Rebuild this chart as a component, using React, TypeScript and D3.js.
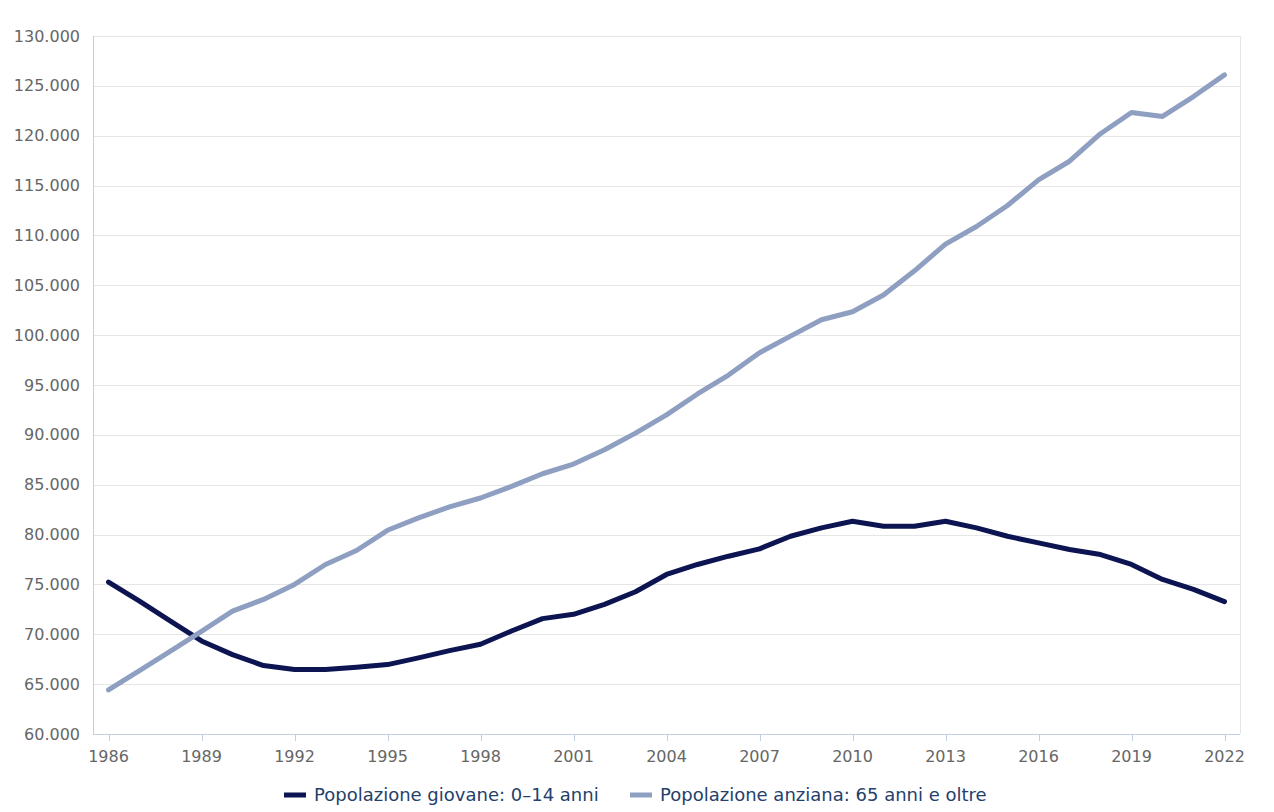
import { useEffect, useRef } from "react";
import * as d3 from "d3";

// anni (asse x)
const years = d3.range(1986, 2023);

// Popolazione giovane: 0-14 anni
const giovani = [
  75230, 73320, 71310, 69330, 67960, 66860, 66460, 66460, 66700, 66960,
  67630, 68360, 69000, 70330, 71570, 72000, 73000, 74270, 76000, 77000,
  77830, 78570, 79830, 80670, 81330, 80830, 80830, 81330, 80670, 79830,
  79170, 78500, 78000, 77000, 75500, 74500, 73270,
];

// Popolazione anziana: 65 anni e oltre
const anziani = [
  64430, 66360, 68300, 70300, 72320, 73500, 75000, 77000, 78400, 80430,
  81670, 82770, 83670, 84830, 86100, 87070, 88500, 90170, 92000, 94100,
  96000, 98230, 99900, 101540, 102350, 104020, 106450, 109130, 110900, 113000,
  115570, 117440, 120200, 122330, 121930, 123930, 126100,
];

const seriesNames = ["Popolazione giovane: 0–14 anni", "Popolazione anziana: 65 anni e oltre"];
const seriesColors = ["#0c1452", "#8f9fc1"];
const yTicks = d3.range(60000, 130001, 5000);
const xTicks = d3.range(1986, 2023, 3);

const W = 1274;
const H = 812;

const drawChart = (element: SVGSVGElement) => {
  const svg = d3.select(element);
  svg.selectAll("*").remove();

  const left = 93;
  const right = 1240;
  const top = 36;
  const bottom = 734;
  const font = "'DejaVu Sans', sans-serif";

  const x = d3.scalePoint<number>().domain(years).range([left, right]).padding(0.5);
  const y = d3.scaleLinear().domain([60000, 130000]).range([bottom, top]);
  const it = d3.formatLocale({ decimal: ",", thousands: ".", grouping: [3], currency: ["€", ""] });
  const fmt = it.format(",d");

  // griglia orizzontale
  svg.append("g")
    .selectAll("line")
    .data(yTicks.slice(1))
    .join("line")
    .attr("x1", left)
    .attr("x2", right)
    .attr("y1", (d) => Math.round(y(d)) + 0.5)
    .attr("y2", (d) => Math.round(y(d)) + 0.5)
    .attr("stroke", "#e6e6e6");

  // bordo destro
  svg.append("line")
    .attr("x1", right + 0.5).attr("x2", right + 0.5)
    .attr("y1", y(130000)).attr("y2", bottom)
    .attr("stroke", "#e6e6e6");

  // asse y
  svg.append("line")
    .attr("x1", left + 0.5).attr("x2", left + 0.5)
    .attr("y1", y(130000)).attr("y2", bottom)
    .attr("stroke", "#c0d0e0");

  svg.append("g")
    .selectAll("text")
    .data(yTicks)
    .join("text")
    .attr("x", 80)
    .attr("y", (d) => y(d))
    .attr("dy", "0.35em")
    .attr("text-anchor", "end")
    .attr("font-family", font)
    .attr("font-size", 16)
    .attr("fill", "#666666")
    .text((d) => fmt(d));

  // asse x
  svg.append("line")
    .attr("x1", left).attr("x2", right)
    .attr("y1", bottom + 0.5).attr("y2", bottom + 0.5)
    .attr("stroke", "#c0d0e0");

  svg.append("g")
    .selectAll("line")
    .data(xTicks)
    .join("line")
    .attr("x1", (d) => Math.round(x(d)!) + 0.5)
    .attr("x2", (d) => Math.round(x(d)!) + 0.5)
    .attr("y1", bottom)
    .attr("y2", bottom + 7)
    .attr("stroke", "#c0d0e0");

  svg.append("g")
    .selectAll("text")
    .data(xTicks)
    .join("text")
    .attr("x", (d) => x(d)!)
    .attr("y", 762)
    .attr("text-anchor", "middle")
    .attr("font-family", font)
    .attr("font-size", 16)
    .attr("fill", "#666666")
    .text((d) => String(d));

  // linee
  const line = d3.line<number>()
    .x((_, i) => x(years[i])!)
    .y((d) => y(d));

  [giovani, anziani].forEach((values, i) => {
    svg.append("path")
      .datum(values)
      .attr("d", line)
      .attr("fill", "none")
      .attr("stroke", seriesColors[i])
      .attr("stroke-width", 5)
      .attr("stroke-linejoin", "round")
      .attr("stroke-linecap", "round");
  });

  // legenda
  const legendX = [284, 630];
  seriesNames.forEach((name, i) => {
    const g = svg.append("g").attr("transform", `translate(${legendX[i]}, 795)`);
    g.append("rect")
      .attr("x", 0)
      .attr("y", -2.5)
      .attr("width", 22)
      .attr("height", 5)
      .attr("fill", seriesColors[i]);
    g.append("text")
      .attr("x", 30)
      .attr("y", 0)
      .attr("dy", "0.36em")
      .attr("font-family", font)
      .attr("font-size", 18)
      .attr("fill", "#24406b")
      .text(name);
  });
};

export default function App() {
  const ref = useRef<SVGSVGElement>(null);
  useEffect(() => {
    if (ref.current) drawChart(ref.current);
  }, []);
  return (
    <svg
      ref={ref}
      width={W}
      height={H}
      style={{ position: "absolute", left: 0, top: 0, background: "#ffffff" }}
    />
  );
}
